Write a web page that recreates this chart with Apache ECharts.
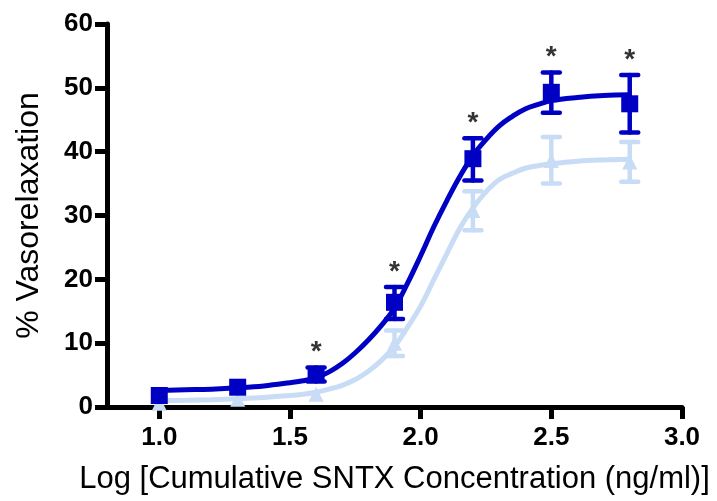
<!DOCTYPE html>
<html>
<head>
<meta charset="utf-8">
<script src="https://cdn.jsdelivr.net/npm/echarts@6/dist/echarts.min.js"></script>
<style>
html,body{margin:0;padding:0;background:#fff;}
#chart{width:717px;height:501px;}
</style>
</head>
<body>
<div id="chart"></div>
<script>
// Data points (log concentration)
const doseX = [1.0, 1.3, 1.6, 1.9, 2.2, 2.5, 2.8];
const darkMean = [1.8, 3.1, 5.1, 16.4, 38.9, 49.3, 47.5];
const darkLow  = [1.8, 3.1, 4.0, 13.8, 35.5, 46.1, 43.0];
const darkHigh = [1.8, 3.1, 6.2, 18.8, 42.1, 52.4, 52.0];
const lightMean = [0.6, 1.2, 2.0, 10.0, 30.8, 38.6, 38.4];
const lightLow  = [0.6, 1.2, 2.0, 8.0, 27.7, 35.0, 35.3];
const lightHigh = [0.6, 1.2, 2.0, 12.0, 33.8, 42.3, 41.5];
// Fitted curves
const curveX = [1.0, 1.1, 1.2, 1.3, 1.4, 1.5, 1.55, 1.6, 1.65, 1.7, 1.75, 1.8, 1.85, 1.9, 1.95, 2.0, 2.05, 2.1, 2.15, 2.2, 2.25, 2.3, 2.35, 2.4, 2.45, 2.5, 2.6, 2.7, 2.8];
const darkCurve = [2.6, 2.7, 2.8, 3.0, 3.3, 3.8, 4.1, 4.6, 5.5, 6.8, 8.5, 10.5, 12.8, 15.5, 19.4, 23.7, 28.2, 32.3, 36.1, 39.4, 41.9, 44.0, 45.5, 46.7, 47.4, 48.0, 48.5, 48.8, 48.9];
const lightCurve = [1.0, 1.05, 1.15, 1.3, 1.5, 1.8, 2.0, 2.3, 2.8, 3.4, 4.3, 5.6, 7.3, 9.5, 12.5, 15.8, 19.9, 24.0, 28.0, 31.2, 33.7, 35.6, 36.6, 37.4, 37.8, 38.1, 38.5, 38.7, 38.8];
// Significance marks
const starX = [1.6, 1.9, 2.2, 2.5, 2.8];
const xTickValues = [1.0, 1.5, 2.0, 2.5, 3.0];

const DARK = '#0000C4';
const LIGHT = '#C8DCF6';
const FONT = '"Liberation Sans", Arial, sans-serif';

function zip(a, b) { return a.map((v, i) => [v, b[i]]); }

function errSeries(color, lows, highs, z) {
  return {
    type: 'custom',
    z: z,
    data: doseX.map((x, i) => [x, lows[i], highs[i]]),
    renderItem: function (params, api) {
      const x = api.value(0), lo = api.value(1), hi = api.value(2);
      if (lo === hi) return null;
      const pLo = api.coord([x, lo]);
      const pHi = api.coord([x, hi]);
      const w = 8.5;
      const st = { stroke: color, lineWidth: 4.5, lineCap: 'round' };
      return {
        type: 'group',
        children: [
          { type: 'line', shape: { x1: pLo[0], y1: pLo[1], x2: pHi[0], y2: pHi[1] }, style: st },
          { type: 'line', shape: { x1: pHi[0] - w, y1: pHi[1], x2: pHi[0] + w, y2: pHi[1] }, style: st },
          { type: 'line', shape: { x1: pLo[0] - w, y1: pLo[1], x2: pLo[0] + w, y2: pLo[1] }, style: st }
        ]
      };
    }
  };
}

const chart = echarts.init(document.getElementById('chart'));
chart.setOption({
  animation: false,
  backgroundColor: '#fff',
  grid: { left: 107, right: 35, top: 24, bottom: 94, containLabel: false },
  xAxis: {
    type: 'value',
    min: 0.8,
    max: 3.0,
    splitLine: { show: false },
    axisLine: { show: true, onZero: false, lineStyle: { color: '#000', width: 5 } },
    axisTick: { show: true, length: 12, customValues: xTickValues, lineStyle: { color: '#000', width: 5 } },
    axisLabel: {
      customValues: xTickValues, margin: 18,
      formatter: v => Number(v).toFixed(1),
      color: '#000', fontFamily: FONT, fontWeight: 'bold', fontSize: 26
    },
    name: 'Log [Cumulative SNTX Concentration (ng/ml)]',
    nameLocation: 'middle',
    nameGap: 57,
    nameTextStyle: { color: '#000', fontFamily: FONT, fontSize: 31 }
  },
  yAxis: {
    type: 'value',
    min: 0,
    max: 60,
    interval: 10,
    splitLine: { show: false },
    axisLine: { show: true, lineStyle: { color: '#000', width: 5 } },
    axisTick: { show: true, length: 12, lineStyle: { color: '#000', width: 5 } },
    axisLabel: {
      margin: 14,
      color: '#000', fontFamily: FONT, fontWeight: 'bold', fontSize: 26
    },
    name: '% Vasorelaxation',
    nameLocation: 'middle',
    nameGap: 62,
    nameTextStyle: { color: '#000', fontFamily: FONT, fontSize: 32 }
  },
  series: [
    {
      type: 'line', z: 1, data: zip(curveX, lightCurve), smooth: 0.4, showSymbol: false,
      lineStyle: { color: LIGHT, width: 5 }, silent: true
    },
    errSeries(LIGHT, lightLow, lightHigh, 2),
    {
      type: 'scatter', z: 3, data: zip(doseX, lightMean), symbol: 'triangle', symbolSize: 15,
      itemStyle: { color: LIGHT, opacity: 1 }
    },
    {
      type: 'line', z: 4, data: zip(curveX, darkCurve), smooth: 0.4, showSymbol: false,
      lineStyle: { color: DARK, width: 5 }, silent: true
    },
    errSeries(DARK, darkLow, darkHigh, 5),
    {
      type: 'scatter', z: 6, data: zip(doseX, darkMean), symbol: 'rect', symbolSize: 17,
      itemStyle: { color: DARK, opacity: 1 }
    },
    {
      type: 'scatter', z: 7,
      data: starX.map(x => [x, darkHigh[doseX.indexOf(x)]]),
      symbolSize: 0,
      label: {
        show: true, position: 'top', distance: 1, formatter: '*',
        color: '#000', fontFamily: FONT, fontWeight: 'bold', fontSize: 28
      }
    }
  ]
});
</script>
</body>
</html>
